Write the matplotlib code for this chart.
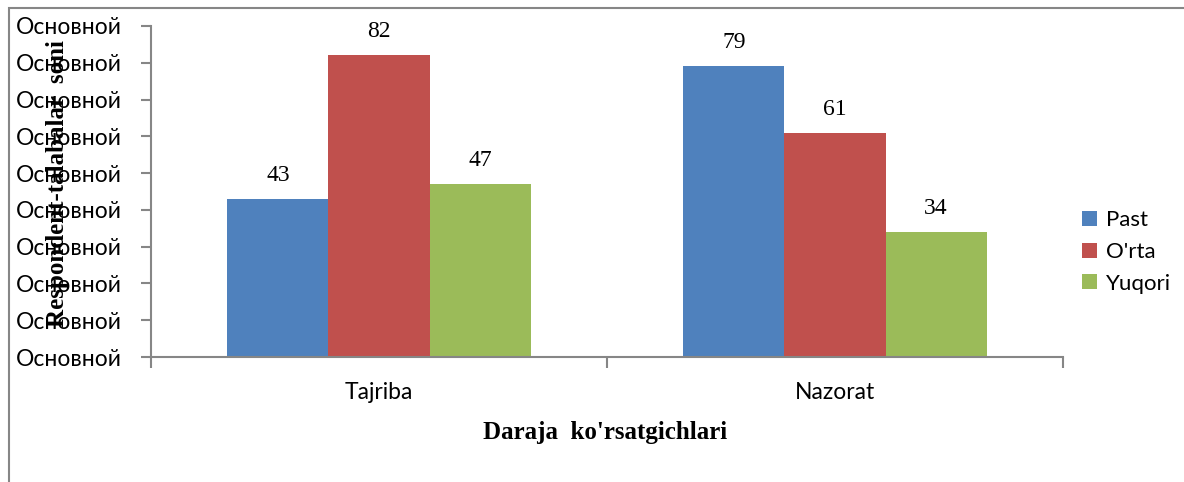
import numpy as np
import matplotlib.pyplot as plt
from matplotlib.patches import Rectangle

# data
groups = ['Tajriba', 'Nazorat']
series = ['Past', "O'rta", 'Yuqori']
values = [
    [43, 79],   # Past
    [82, 61],   # O'rta
    [47, 34],   # Yuqori
]
colors = ['#4F81BD', '#C0504D', '#9BBB59']
ytick_vals = [0, 10, 20, 30, 40, 50, 60, 70, 80, 90]
ytick_labels = ['Основной'] * len(ytick_vals)

W, H = 1184, 482
fig = plt.figure(figsize=(W / 100, H / 100), dpi=100)
ax = fig.add_axes([151 / W, 1 - 357 / H, 912 / W, 331 / H])

axis_col = '#868686'
sans = 'Lato'
serif = 'Liberation Serif'
tick_fs = 16.5

# chart frame (partly outside the picture)
fig.patches.append(Rectangle((9 / W, -0.2), 1.5, 1 - 8 / H + 0.2,
                             transform=fig.transFigure, fill=False,
                             edgecolor=axis_col, linewidth=1.5))

x = np.arange(len(groups))
bw = 0.2215
for i, (name, vals) in enumerate(zip(series, values)):
    pos = x + (i - 1) * bw
    bars = ax.bar(pos, vals, width=bw, color=colors[i], label=name)
    for b, v in zip(bars, vals):
        ax.text(b.get_x() + b.get_width() / 2, v + 4.9, str(v),
                ha='center', va='baseline', fontsize=17, family=serif)

ax.set_xlim(-0.5, 1.5)
ax.set_ylim(0, 90)

# y axis
ax.set_yticks(ytick_vals)
ax.set_yticklabels(ytick_labels, family=sans, fontsize=tick_fs)
ax.tick_params(axis='y', direction='out', length=7, width=1.5, color=axis_col, pad=14)

# x axis: labels at centers, tick marks at category boundaries
ax.set_xticks(x)
ax.set_xticklabels(groups, family=sans, fontsize=tick_fs)
ax.tick_params(axis='x', which='major', length=0, pad=18)
ax.set_xticks([-0.5, 0.5, 1.5], minor=True)
ax.tick_params(axis='x', which='minor', direction='out', length=8, width=1.5, color=axis_col)

for s in ['top', 'right']:
    ax.spines[s].set_visible(False)
for s in ['left', 'bottom']:
    ax.spines[s].set_color(axis_col)
    ax.spines[s].set_linewidth(1.5)

ax.set_xlabel("Daraja  ko'rsatgichlari", family=serif, fontsize=18, fontweight='bold')
ax.xaxis.label.set_va('center')
ax.xaxis.set_label_coords(0.498, -0.227)
ax.set_ylabel('Respondent-talabalar  soni', family=serif, fontsize=18, fontweight='bold')
ax.yaxis.label.set_va('center')
ax.yaxis.set_label_coords(-0.103, 0.523)

leg = fig.legend(loc='center left', bbox_to_anchor=(1062 / W, 1 - 252 / H),
                 frameon=False, prop={'family': sans, 'size': 16},
                 handlelength=0.68, handleheight=0.68, handletextpad=0.4,
                 labelspacing=0.52)

fig.savefig('out.png', dpi=100)
